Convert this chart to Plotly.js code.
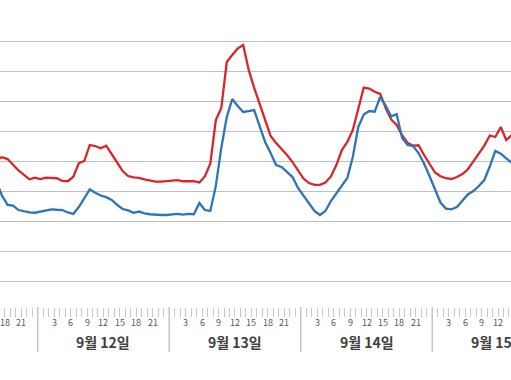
<!DOCTYPE html>
<html>
<head>
<meta charset="utf-8">
<script src="https://cdn.plot.ly/plotly-3.0.1.min.js"></script>
<style>
  html, body { margin: 0; padding: 0; background: #ffffff; }
  #chart { width: 511px; height: 380px; }
</style>
</head>
<body>
<div id="chart"></div>
<script>
// Day category labels (first day is 9월 11일)
const dayLabels = ['9월 11일', '9월 12일', '9월 13일', '9월 14일', '9월 15일'];
// Hour tick labels shown under each day
const hourLabels = [3, 6, 9, 12, 15, 18, 21];
// First hourly reading shown: 9월 11일 16시
const firstHour = 16;

// Hourly values, 9/11 16h .. 9/15 14h
const redSeries = [
  101.3, 102.5, 101.3, 97.3, 93.7, 90.7, 87.8, 88.9,
  88.0, 88.9, 88.5, 88.5, 86.7, 86.5, 89.5, 98.5, 100.0, 110.7, 110.0, 108.5,
  110.2, 105.0, 99.0, 93.3, 90.0, 89.1, 88.7, 87.7, 86.7, 86.2, 86.3, 86.7,
  87.0, 87.3, 86.5, 86.7, 86.5, 85.7, 89.7, 98.3, 127.3, 135.3, 166.0, 170.7,
  175.0, 177.3, 160.7, 148.7, 138.0, 128.7, 116.7, 112.0, 108.3, 104.0, 99.3, 94.0,
  88.3, 85.3, 84.1, 84.1, 85.7, 89.7, 97.3, 107.3, 112.7, 120.7, 135.3, 149.0,
  148.3, 146.2, 144.7, 135.3, 127.7, 124.0, 117.3, 112.0, 110.3, 110.5, 104.0, 97.7,
  92.3, 89.8, 88.5, 88.0, 89.3, 91.3, 94.5, 99.7, 104.7, 110.3, 117.0, 116.0,
  122.7, 114.0, 117.3
];
const blueSeries = [
  86.0, 76.7, 70.7, 70.3, 67.3, 66.3, 65.7, 65.5,
  66.2, 67.0, 67.8, 67.5, 67.3, 65.7, 64.7, 69.3, 75.3, 81.1, 78.9, 77.0,
  75.9, 74.0, 70.7, 68.0, 67.1, 65.5, 66.3, 65.1, 64.5, 64.1, 64.0, 64.0,
  64.3, 64.7, 64.3, 64.7, 64.5, 72.0, 67.3, 66.7, 83.3, 108.7, 129.3, 141.3,
  136.7, 132.7, 133.3, 134.0, 123.3, 112.7, 105.3, 97.3, 96.0, 92.3, 89.3, 82.0,
  77.0, 72.0, 66.7, 64.0, 66.7, 73.3, 78.7, 83.3, 88.7, 102.7, 122.7, 131.0,
  133.3, 132.9, 142.7, 137.0, 129.7, 131.3, 115.3, 110.7, 110.0, 105.3, 98.3, 90.0,
  81.3, 72.3, 68.3, 67.8, 69.3, 73.7, 77.7, 80.0, 83.3, 87.3, 96.3, 106.7,
  104.9, 101.8, 98.7
];

// x position: hours since 9/11 00:00, point centred in its hour slot
const xs = redSeries.map((_, i) => firstHour + i + 0.5);

const tickVals = [], tickText = [];
dayLabels.forEach((d, di) => {
  hourLabels.forEach(h => { tickVals.push(di * 24 + h); tickText.push(String(h)); });
});

const plotH = 380 - 73;
const shapes = [];
for (let di = 1; di < dayLabels.length; di++) {
  shapes.push({
    type: 'line', xref: 'x', yref: 'paper',
    x0: di * 24, x1: di * 24, y0: 0, y1: -45 / plotH,
    line: { color: '#c4c4c4', width: 1.5 }
  });
}
const annotations = dayLabels.map((d, di) => ({
  x: di * 24 + 12, y: -35 / plotH, xref: 'x', yref: 'paper',
  text: '<b>' + d + '</b>', showarrow: false,
  xanchor: 'center', yanchor: 'middle',
  font: { family: 'Noto Sans CJK KR, sans-serif', size: 14, color: '#404040' }
}));
// hour labels as annotations so the partly-visible ones at the edges still show
tickVals.forEach((v, i) => {
  annotations.push({
    x: v, y: -15 / plotH, xref: 'x', yref: 'paper',
    text: tickText[i], showarrow: false,
    xanchor: 'center', yanchor: 'middle',
    font: { family: 'Noto Sans CJK KR, sans-serif', size: 9, color: '#595959' }
  });
});

const traces = [
  { x: xs, y: redSeries, type: 'scatter', mode: 'lines', name: 'red',
    line: { color: '#d9262b', width: 2.3 } },
  { x: xs, y: blueSeries, type: 'scatter', mode: 'lines', name: 'blue',
    line: { color: '#2e74b8', width: 2.3 } }
];

const layout = {
  width: 511, height: 380,
  margin: { l: 0, r: 0, t: 0, b: 73 },
  paper_bgcolor: '#ffffff', plot_bgcolor: '#ffffff',
  showlegend: false,
  xaxis: {
    range: [17.12, 110.37],
    tickmode: 'array', tickvals: tickVals, ticktext: tickText,
    showticklabels: false,
    ticks: 'outside', ticklen: 9, tickcolor: '#c8c8c8', tickwidth: 1,
    showgrid: false, zeroline: false, showline: false,
    minor: { tickmode: 'linear', tick0: 0, dtick: 1, ticks: 'outside', ticklen: 9,
             tickcolor: '#c8c8c8', tickwidth: 1, showgrid: false }
  },
  yaxis: {
    range: [2.667, 207.33],
    tickmode: 'array', tickvals: [20, 40, 60, 80, 100, 120, 140, 160, 180],
    showticklabels: false, ticks: '',
    showgrid: true, gridcolor: '#c0c0c0', gridwidth: 1,
    zeroline: false, showline: false
  },
  shapes: shapes,
  annotations: annotations
};

Plotly.newPlot('chart', traces, layout, { staticPlot: true, displayModeBar: false });
</script>
</body>
</html>
